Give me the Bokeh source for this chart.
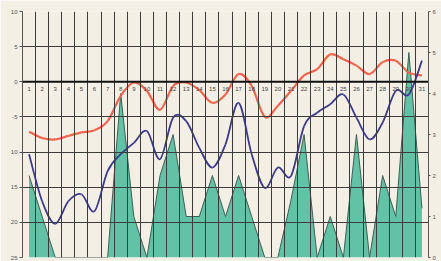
import numpy as np
from bokeh.plotting import figure
from bokeh.models import Range1d, LinearAxis, FixedTicker, Span
from bokeh.embed import file_html
from bokeh.resources import INLINE
from bokeh.core.properties import value

# ---- data ----
days = list(range(1, 32))
day_labels = [str(d) for d in days]
t_max = [-7.1, -8.0, -8.2, -7.7, -7.2, -6.9, -5.6, -2.0, -0.1, -1.3,
         -4.0, -0.6, -0.1, -1.2, -3.0, -1.8, 1.1, -0.6, -5.0, -3.4,
         -1.3, 0.9, 1.8, 3.9, 3.2, 2.3, 1.1, 2.8, 3.0, 1.3, 0.9]
t_min = [-10.3, -17.0, -20.2, -17.0, -16.0, -18.4, -12.7, -10.3, -8.7, -7.0,
         -11.0, -5.1, -5.6, -9.4, -12.2, -8.9, -3.0, -10.3, -15.1, -12.2,
         -13.4, -6.3, -4.4, -3.2, -1.8, -5.1, -8.2, -5.8, -1.3, -1.8, 3.0]
precip = [2, 1, 0, 0, 0, 0, 0, 4, 1, 0,
          2, 3, 1, 1, 2, 1, 2, 1, 0, 0,
          1.4, 3, 0, 1, 0, 3, 0, 2, 1, 5, 1.2]
left_ticks = [10, 5, 0, -5, -10, -15, -20, -25]
left_tick_labels = ["10", "5", "0", "-5", "10", "15", "20", "25"]
right_ticks = [0, 1, 2, 3, 4, 5, 6]

BG = "#f3efe5"
GRID = "#3c3c3c"

p = figure(width=441, height=261, x_range=Range1d(0.5, 31.5), y_range=Range1d(-25, 10),
           output_backend="svg", toolbar_location=None, x_axis_location=None,
           min_border_left=22, min_border_right=13, min_border_top=11, min_border_bottom=4)
p.extra_y_ranges = {"right": Range1d(0, 6)}
p.background_fill_color = BG
p.border_fill_color = BG
p.outline_line_color = None

# grids (drawn above the area, below the lines)
p.xgrid.ticker = FixedTicker(ticks=[d + 0.5 for d in [0] + days])
p.ygrid.ticker = FixedTicker(ticks=left_ticks)
for g in (p.xgrid, p.ygrid):
    g.grid_line_color = GRID
    g.grid_line_width = 1
    g.level = "glyph"

# left axis
ax = p.yaxis[0]
ax.ticker = FixedTicker(ticks=left_ticks)
ax.major_label_overrides = {t: s for t, s in zip(left_ticks, left_tick_labels)}
ax.major_label_text_font_size = "6px"
ax.major_label_text_color = "#555555"
ax.major_label_text_font = "Liberation Sans"
ax.major_tick_out = 3
ax.major_tick_in = 0
ax.minor_tick_line_color = None
ax.axis_line_color = "#555555"
ax.major_tick_line_color = "#555555"
ax.major_label_standoff = 2

# right axis
rax = LinearAxis(y_range_name="right", ticker=FixedTicker(ticks=right_ticks))
rax.major_label_text_font_size = "6px"
rax.major_label_text_color = "#555555"
rax.major_label_text_font = "Liberation Sans"
rax.major_tick_out = 2
rax.major_tick_in = 0
rax.minor_tick_line_color = None
rax.axis_line_color = "#555555"
rax.major_tick_line_color = "#555555"
rax.major_label_standoff = 2
p.add_layout(rax, "right")

# precipitation area (right axis)
ar = p.varea(x=days, y1=0, y2=precip, y_range_name="right", fill_color="#62c2a6")
ar.level = "underlay"
ol = p.line(x=days, y=precip, y_range_name="right", line_color="#3f5f55", line_width=1)
ol.level = "underlay"

# zero line
p.add_layout(Span(location=0, dimension="width", line_color="#111111", line_width=2, level="glyph"))

# smooth curves (Catmull-Rom -> Bezier)
def smooth(xs, ys, color, width):
    xs = np.asarray(xs, float); ys = np.asarray(ys, float)
    n = len(xs)
    x0, y0, x1, y1, cx0, cy0, cx1, cy1 = [], [], [], [], [], [], [], []
    for i in range(n - 1):
        a = max(i - 1, 0); d = min(i + 2, n - 1)
        x0.append(xs[i]); y0.append(ys[i]); x1.append(xs[i + 1]); y1.append(ys[i + 1])
        cx0.append(xs[i] + (xs[i + 1] - xs[a]) / 6); cy0.append(ys[i] + (ys[i + 1] - ys[a]) / 6)
        cx1.append(xs[i + 1] - (xs[d] - xs[i]) / 6); cy1.append(ys[i + 1] - (ys[d] - ys[i]) / 6)
    p.bezier(x0=x0, y0=y0, x1=x1, y1=y1, cx0=cx0, cy0=cy0, cx1=cx1, cy1=cy1,
             line_color=color, line_width=width)

smooth(days, t_max, "#f0644c", 2.2)
smooth(days, t_min, "#3b3a8c", 1.8)

# day labels under the zero line
p.text(x=days, y=0, text=day_labels, text_font=value("Liberation Sans"), text_font_size="6px",
       text_align="center", text_baseline="top", y_offset=5, text_color="#444444")

open("out.html", "w").write(file_html(p, INLINE))
